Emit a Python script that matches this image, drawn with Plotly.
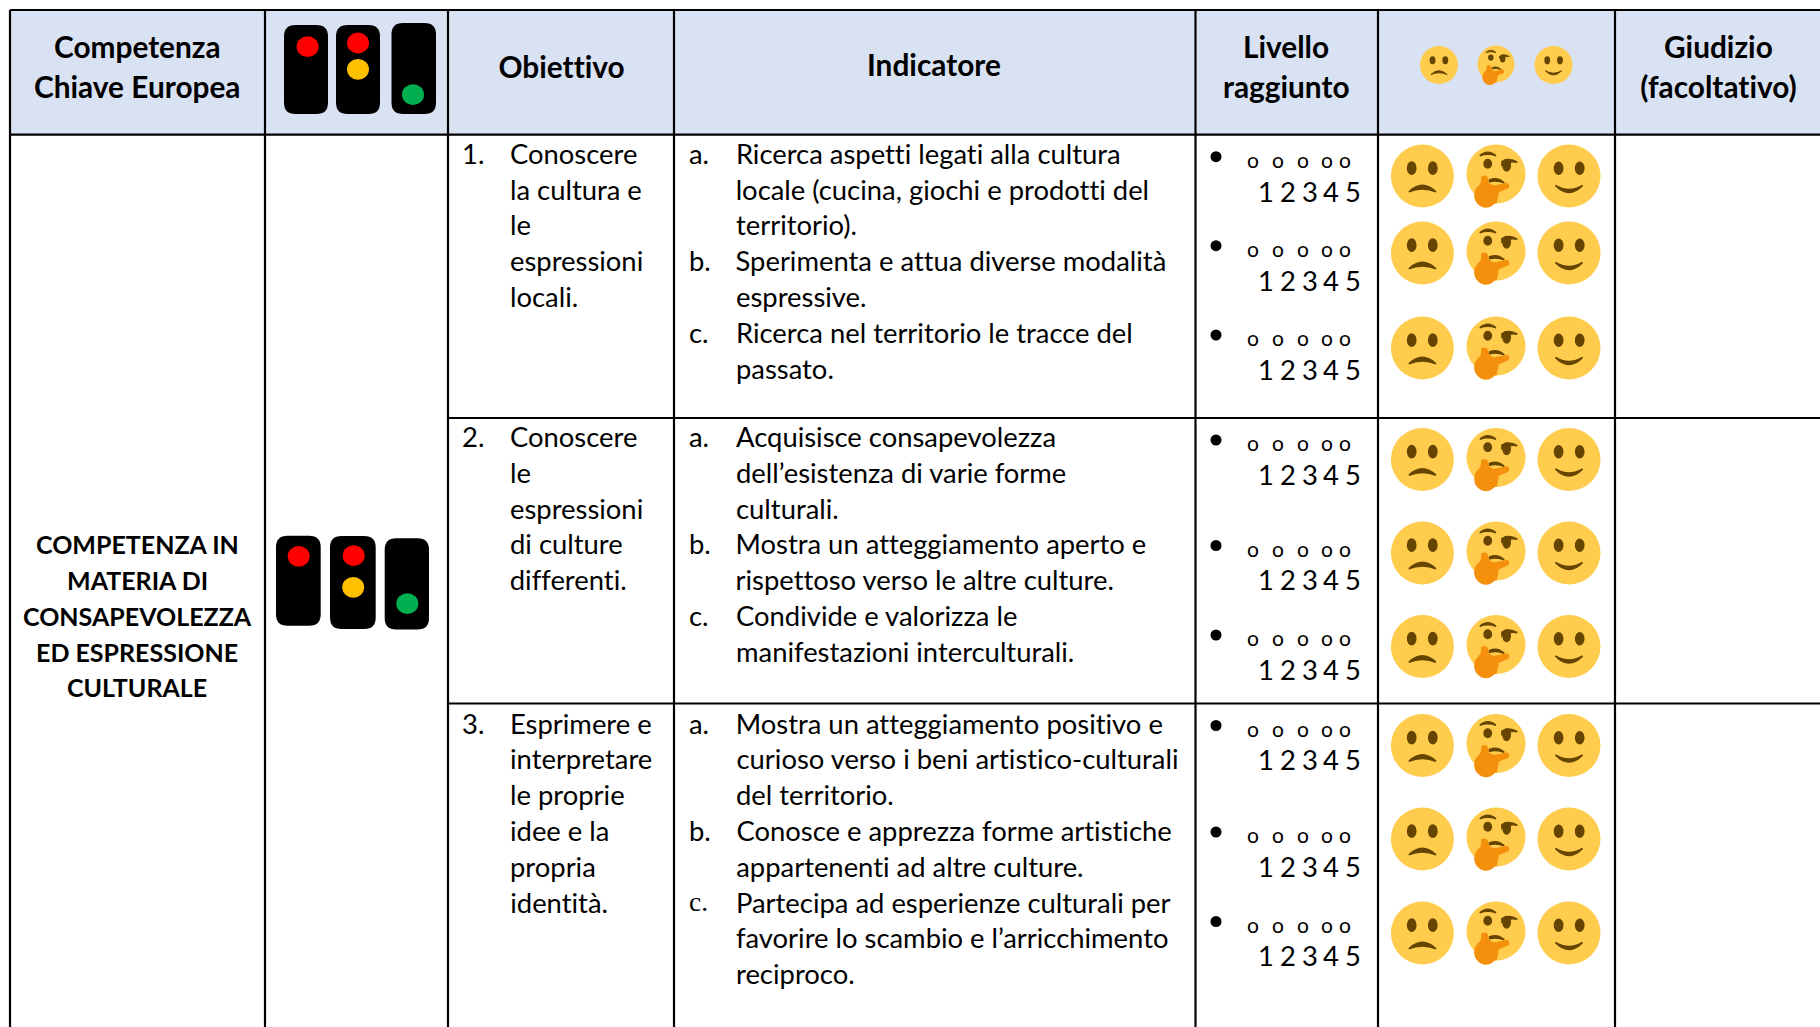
import plotly.graph_objects as go

W, H = 1820, 1027
FONT = "Lato"
BODY = 27.4
HEAD = 29.8

HEADER_FILL = "#D9E2F3"
COL_X = [10, 265, 448, 674, 1195.5, 1378, 1615]
ROW_Y = [10, 134.7, 418, 703.5]

HEADERS = [
    (["Competenza", "Chiave Europea"], 137, [47.5, 87.5]),
    (["Obiettivo"], 561, [67.5]),
    (["Indicatore"], 934, [65.5]),
    (["Livello", "raggiunto"], 1286, [47.5, 87.5]),
    (["Giudizio", "(facoltativo)"], 1718, [47.5, 87.5]),
]
COMPETENZA = ["COMPETENZA IN", "MATERIA DI", "CONSAPEVOLEZZA", "ED ESPRESSIONE", "CULTURALE"]
COMPETENZA_Y = [545.5, 581, 617, 653, 688]

OBIETTIVI_NUM = ["1.", "2.", "3."]
OBIETTIVI = [
    ["Conoscere", "la cultura e", "le", "espressioni", "locali."],
    ["Conoscere", "le", "espressioni", "di culture", "differenti."],
    ["Esprimere e", "interpretare", "le proprie", "idee e la", "propria", "identità."],
]
INDICATORI = [
    [("a.", ["Ricerca aspetti legati alla cultura", "locale (cucina, giochi e prodotti del", "territorio)."]),
     ("b.", ["Sperimenta e attua diverse modalità", "espressive."]),
     ("c.", ["Ricerca nel territorio le tracce del", "passato."])],
    [("a.", ["Acquisisce consapevolezza", "dell’esistenza di varie forme", "culturali."]),
     ("b.", ["Mostra un atteggiamento aperto e", "rispettoso verso le altre culture."]),
     ("c.", ["Condivide e valorizza le", "manifestazioni interculturali."])],
    [("a.", ["Mostra un atteggiamento positivo e", "curioso verso i beni artistico-culturali", "del territorio."]),
     ("b.", ["Conosce e apprezza forme artistiche", "appartenenti ad altre culture."]),
     ("c.", ["Partecipa ad esperienze culturali per", "favorire lo scambio e l’arricchimento", "reciproco."])],
]
ROW_TEXT_Y = [154.4, 437.6, 724.3]
LINE_H = 35.8

LEVEL_MARKS = ["o", "o", "o", "o", "o"]
LEVEL_NUMS = ["1", "2", "3", "4", "5"]
BULLET_Y = [156.7, 245.7, 335, 440, 545.5, 635, 725.5, 832, 921.5]
FACE_Y = [176, 253, 348, 459.5, 553, 646.5, 745.5, 839, 933]

fig = go.Figure()
shapes, ann = [], []
TEXT_DY = -1.2


def txt(x, y, s, size=BODY, bold=False, anchor="left", family=FONT):
    ann.append(dict(x=x, y=y + TEXT_DY, text=f"<b>{s}</b>" if bold else s, showarrow=False, xref="x", yref="y",
                    xanchor=anchor, yanchor="middle", borderpad=0,
                    font=dict(family=family, size=size, color="#000000")))


def ell(cx, cy, rx, ry, color):
    shapes.append(dict(type="circle", xref="x", yref="y", x0=cx - rx, x1=cx + rx, y0=cy - ry, y1=cy + ry,
                       fillcolor=color, line=dict(width=0)))


def path(points_d, color, stroke=0.0):
    shapes.append(dict(type="path", xref="x", yref="y", path=points_d, fillcolor=color,
                       line=dict(width=stroke, color=color)))


def rel(cx, cy, r, cmds):
    out = []
    for c in cmds:
        if isinstance(c, str):
            out.append(c)
        else:
            out.append(f"{cx + c[0] * r:.2f},{cy + c[1] * r:.2f}")
    return " ".join(out)


FACE = "#FFCC4D"
DARK = "#664500"
HAND = "#F4900C"


def sad(cx, cy, r):
    ell(cx, cy, r, r, FACE)
    ell(cx - 0.34 * r, cy - 0.25 * r, 0.155 * r, 0.215 * r, DARK)
    ell(cx + 0.33 * r, cy - 0.25 * r, 0.155 * r, 0.215 * r, DARK)
    path(rel(cx, cy, r, ["M", (-0.43, 0.5), "Q", (0, 0.1), (0.43, 0.5), "Q", (0, 0.32), (-0.43, 0.5), "Z"]), DARK, r * 0.05)


def smile(cx, cy, r):
    ell(cx, cy, r, r, FACE)
    ell(cx - 0.33 * r, cy - 0.245 * r, 0.155 * r, 0.215 * r, DARK)
    ell(cx + 0.34 * r, cy - 0.245 * r, 0.155 * r, 0.215 * r, DARK)
    path(rel(cx, cy, r, ["M", (-0.43, 0.3), "Q", (0, 0.56), (0.43, 0.3), "Q", (0, 0.75), (-0.43, 0.3), "Z"]), DARK, r * 0.05)


def think(cx, cy, r):
    ell(cx, cy, r, r, FACE)
    ell(cx - 0.28 * r, cy - 0.35 * r, 0.15 * r, 0.17 * r, DARK)
    ell(cx + 0.36 * r, cy - 0.3 * r, 0.15 * r, 0.22 * r, DARK)
    path(rel(cx, cy, r, ["M", (-0.55, -0.62), "Q", (-0.28, -0.86), (0, -0.62), "Q", (-0.28, -0.72), (-0.55, -0.62), "Z"]), DARK, r * 0.05)
    path(rel(cx, cy, r, ["M", (0.2, -0.42), "Q", (0.45, -0.58), (0.72, -0.4), "Q", (0.45, -0.46), (0.2, -0.3), "Z"]), DARK, r * 0.05)
    path(rel(cx, cy, r, ["M", (-0.22, 0.2), "Q", (0.05, 0.08), (0.28, 0.3), "Q", (0.05, 0.2), (-0.22, 0.26), "Z"]), DARK, r * 0.05)
    ell(cx - 0.34 * r, cy + 0.72 * r, 0.4 * r, 0.42 * r, HAND)
    path(rel(cx, cy, r, ["M", (-0.25, 0.42), "L", (0.38, 0.3), "Q", (0.5, 0.38), (0.42, 0.48),
                         "L", (0.1, 0.62), "L", (0.02, 1.0), "L", (-0.35, 0.95), "Z"]), HAND)
    path(rel(cx, cy, r, ["M", (-0.7, 0.6), "Q", (-0.48, 0.38), (-0.5, 0.08), "Q", (-0.3, -0.02), (-0.25, 0.2),
                         "Q", (-0.25, 0.4), (-0.15, 0.5), "Z"]), HAND)


def light(x0, x1, y0, y1, lamps):
    r = 11.5
    shapes.append(dict(type="path", xref="x", yref="y", fillcolor="#000000", line=dict(width=0), path=(
        f"M {x0 + r},{y0} L {x1 - r},{y0} Q {x1},{y0} {x1},{y0 + r} L {x1},{y1 - r} Q {x1},{y1} {x1 - r},{y1} "
        f"L {x0 + r},{y1} Q {x0},{y1} {x0},{y1 - r} L {x0},{y0 + r} Q {x0},{y0} {x0 + r},{y0} Z")))
    for cx, cy, col in lamps:
        ell(cx, cy, 11, 10.4, col)


RED, AMBER, GREEN = "#FF0000", "#FFC000", "#00B050"

# header band
shapes.append(dict(type="rect", xref="x", yref="y", x0=COL_X[0], x1=W, y0=ROW_Y[0], y1=ROW_Y[1],
                   fillcolor=HEADER_FILL, line=dict(width=0)))

# grid
LW = 2.2
def ln(x0, y0, x1, y1):
    shapes.append(dict(type="line", xref="x", yref="y", x0=x0, x1=x1, y0=y0, y1=y1,
                       line=dict(color="#000000", width=LW)))
ln(COL_X[0], ROW_Y[0], W, ROW_Y[0])
ln(COL_X[0], ROW_Y[1], W, ROW_Y[1])
ln(COL_X[2], ROW_Y[2], W, ROW_Y[2])
ln(COL_X[2], ROW_Y[3], W, ROW_Y[3])
for x in COL_X:
    ln(x, ROW_Y[0], x, H)

# header text
for lines, cx, ys in HEADERS:
    for s, y in zip(lines, ys):
        txt(cx, y, s, size=HEAD, bold=True, anchor="center")
for s, y in zip(COMPETENZA, COMPETENZA_Y):
    txt(137, y, s, size=25, bold=True, anchor="center")

# objectives and indicators
for i in range(3):
    y0 = ROW_TEXT_Y[i]
    txt(461, y0, OBIETTIVI_NUM[i])
    for k, s in enumerate(OBIETTIVI[i]):
        txt(509, y0 + k * LINE_H, s)
    k = 0
    for lab, lines in INDICATORI[i]:
        fam = "Liberation Serif" if (i == 2 and lab == "c.") else FONT
        txt(688, y0 + k * LINE_H, lab, family=fam)
        for s in lines:
            txt(735, y0 + k * LINE_H, s)
            k += 1

# levels
MARK_X = [1252.6, 1278, 1303, 1327.3, 1345.3]
NUM_X = [1266, 1288, 1309.6, 1331, 1353]
for by in BULLET_Y:
    ell(1216, by, 5.5, 5.5, "#000000")
    for x, s in zip(MARK_X, LEVEL_MARKS):
        txt(x, by + 4, s, size=21, anchor="center")
    for x, s in zip(NUM_X, LEVEL_NUMS):
        txt(x, by + 35.5, s, size=BODY, anchor="center")

# faces
for fy in FACE_Y:
    sad(1422.4, fy, 31.5)
    think(1496, fy - 2, 29.5)
    smile(1569, fy, 31.5)
sad(1439, 65, 19)
think(1496, 64, 18.5)
smile(1553.5, 65, 19)

# traffic lights
light(284, 328, 25, 114, [(307.6, 46.7, RED)])
light(336, 380, 25, 114, [(358, 43, RED), (358, 69.3, AMBER)])
light(391.5, 436, 23, 114, [(413, 94.7, GREEN)])
light(276, 320.7, 535.7, 625.7, [(298.7, 556.3, RED)])
light(330, 375.7, 536, 629, [(353.7, 555.7, RED), (353.2, 587.3, AMBER)])
light(384.7, 429, 538.3, 629.5, [(407.3, 603.7, GREEN)])

fig.update_layout(
    width=W, height=H, margin=dict(l=0, r=0, t=0, b=0),
    paper_bgcolor="#FFFFFF", plot_bgcolor="#FFFFFF", showlegend=False,
    xaxis=dict(range=[0, W], visible=False, fixedrange=True),
    yaxis=dict(range=[H, 0], visible=False, fixedrange=True),
    shapes=shapes, annotations=ann,
)
POST = (
    "document.body.style.margin='0';document.documentElement.style.overflow='hidden';"
    "var st=document.createElement('style');"
    "st.textContent='svg text,svg tspan{font-variant-ligatures:none !important;"
    "font-feature-settings:\"liga\" 0,\"clig\" 0,\"dlig\" 0,\"calt\" 0 !important}';"
    "document.head.appendChild(st);"
)
fig.write_html("out.html", config={"displayModeBar": False, "staticPlot": True}, post_script=POST)
